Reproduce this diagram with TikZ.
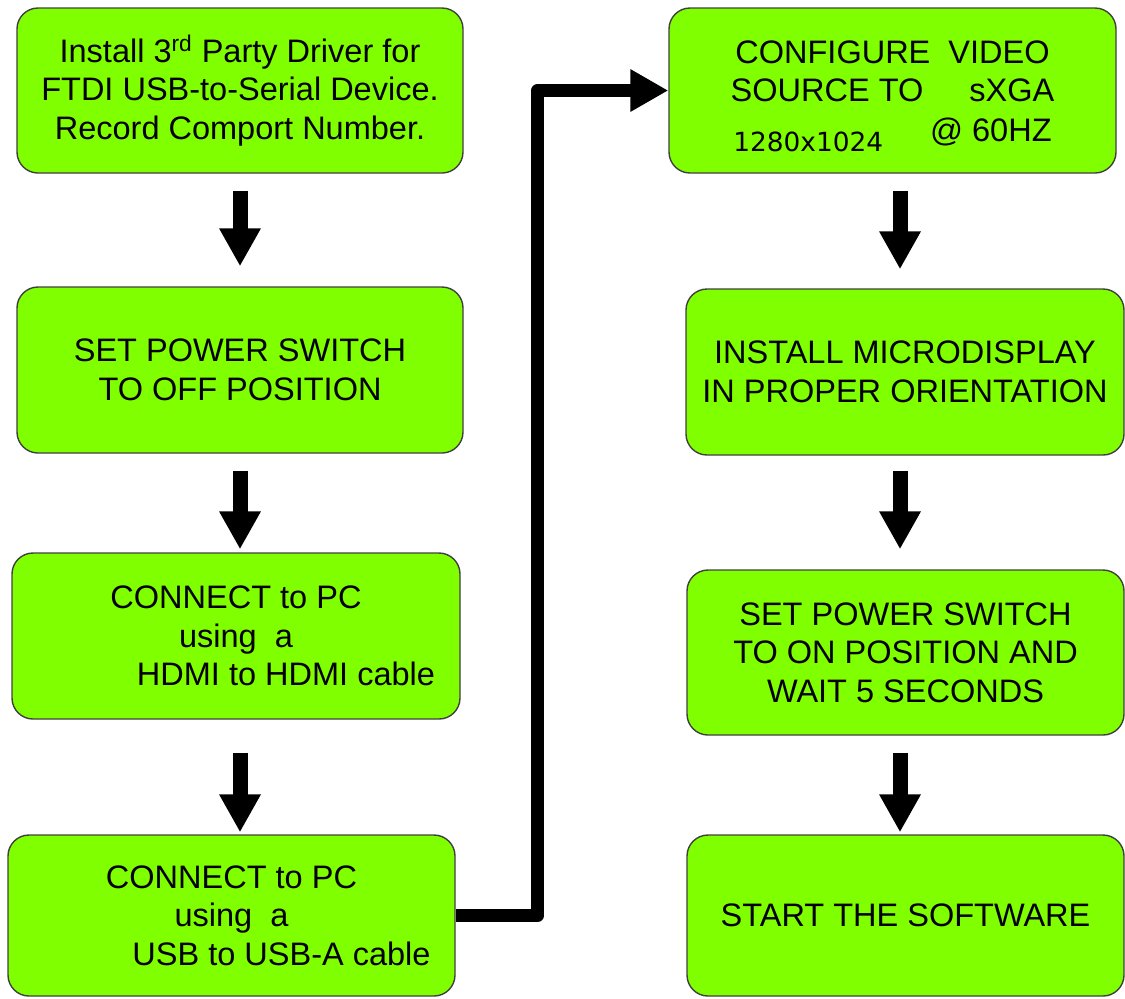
\documentclass[tikz,border=0pt]{standalone}
\usepackage{fontspec}
\setmainfont{Liberation Sans}
\newfontfamily\dejavu{DejaVu Sans}
\usetikzlibrary{arrows.meta, positioning}
\definecolor{stepgreen}{RGB}{128,255,0}

\begin{document}
\begin{tikzpicture}[
    stepbox/.style={draw=black!75, line width=0.8pt, fill=stepgreen, rounded corners=0.42cm, align=center, inner sep=0pt},
    flow/.style={-{Triangle[length=0.76cm, width=0.78cm]}, line width=0.3cm, shorten <=0.34cm},
    link/.style={-{Triangle[length=0.76cm, width=0.8cm]}, line width=0.26cm, line join=round},
    font=\fontsize{18.5}{22}\selectfont
]

\useasboundingbox (0,0) rectangle (22.5,-19.96);

%-------------------------------------------------
% Left column
%-------------------------------------------------
\node[stepbox, minimum width=8.92cm, minimum height=3.30cm] (driver)   at (4.80,-1.81)
    {Install 3\textsuperscript{rd} Party Driver for\\ FTDI USB-to-Serial Device.\\ Record Comport Number.};
\node[stepbox, minimum width=8.92cm, minimum height=3.32cm] (poweroff) at (4.80,-7.40)
    {SET POWER SWITCH\\ TO OFF POSITION};
\node[stepbox, minimum width=8.96cm, minimum height=3.32cm] (hdmi)     at (4.72,-12.72)
    {CONNECT to PC\\ using\ \ a\\ \hspace*{2.0cm}HDMI\ to HDMI\ cable};
\node[stepbox, minimum width=8.94cm, minimum height=3.22cm] (usb)      at (4.63,-18.31)
    {CONNECT to PC\\ using\ \ a\\ \hspace*{2.0cm}USB\ to USB-A\ cable};

%-------------------------------------------------
% Right column
%-------------------------------------------------
\node[stepbox, minimum width=8.94cm, minimum height=3.30cm] (config)   at (17.85,-1.81)
    {\rule{0pt}{0.68cm}CONFIGURE\ \ VIDEO\\ SOURCE TO\hspace{0.92cm}sXGA\\[0.22cm]
     {\dejavu\fontsize{15}{15}\selectfont 1280x1024}\hspace{0.94cm}\raisebox{0.2cm}{@ 60HZ}};
\node[stepbox, minimum width=8.76cm, minimum height=3.32cm] (micro)    at (18.10,-7.44)
    {INSTALL MICRODISPLAY\\ IN PROPER ORIENTATION};
\node[stepbox, minimum width=8.74cm, minimum height=3.30cm] (poweron)  at (18.11,-13.05)
    {SET POWER SWITCH\\ TO ON POSITION AND\\ WAIT 5 SECONDS};
\node[stepbox, minimum width=8.74cm, minimum height=3.22cm] (start)    at (18.11,-18.31)
    {START THE SOFTWARE};

%-------------------------------------------------
% Arrows
%-------------------------------------------------
\draw[flow, shorten >=0.40cm] (driver.south) -- (driver.south |- poweroff.north);
\draw[flow, shorten >=0.06cm] (poweroff.south) -- (poweroff.south |- hdmi.north);
\draw[flow, shorten <=0.66cm, shorten >=0.04cm] (hdmi.south -| driver.south) -- (driver.south |- usb.north);

\draw[link] (usb.east) -- ++(1.64,0) |- (config.west);

\draw[flow, shorten >=0.38cm] ([xshift=0.15cm]config.south) -- ([xshift=0.15cm]config.south |- micro.north);
\draw[flow, shorten <=0.30cm, shorten >=0.40cm] ([xshift=-0.1cm]micro.south) -- ([xshift=-0.1cm]micro.south |- poweron.north);
\draw[flow, shorten >=0.04cm] ([xshift=-0.11cm]poweron.south) -- ([xshift=-0.11cm]poweron.south |- start.north);

\end{tikzpicture}
\end{document}
